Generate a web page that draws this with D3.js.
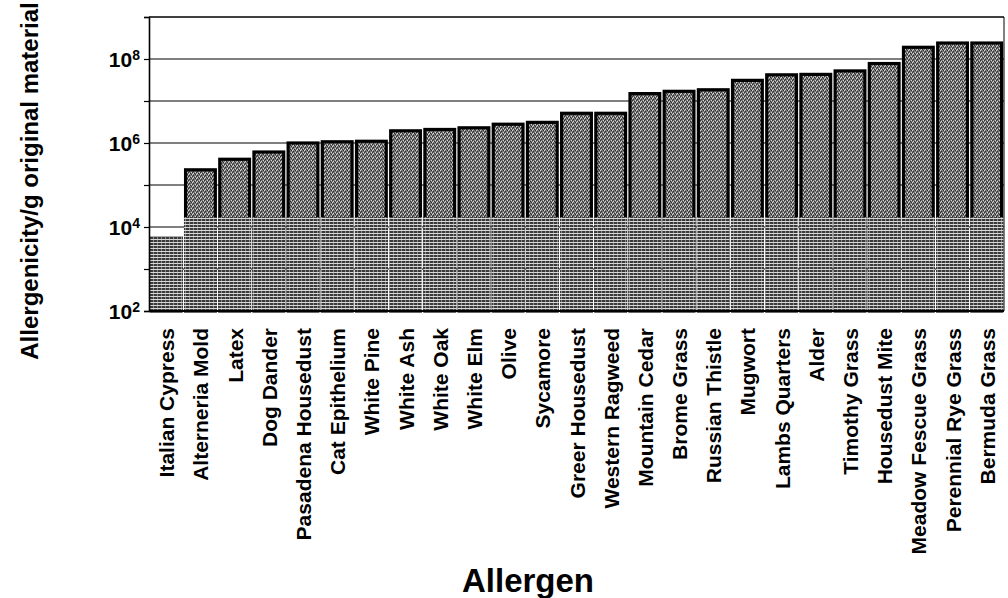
<!DOCTYPE html>
<html>
<head>
<meta charset="utf-8">
<script src="https://cdn.jsdelivr.net/npm/d3@7"></script>
<style>
  html, body { margin: 0; padding: 0; background: #fff; }
  svg { display: block; }
  text { font-family: "Liberation Sans", Arial, Helvetica, sans-serif; font-weight: bold; fill: #000; }
</style>
</head>
<body>
<svg id="chart" width="1008" height="598"></svg>
<script>
// ---- data ----
const categories = [
  "Italian Cypress", "Alterneria Mold", "Latex", "Dog Dander", "Pasadena Housedust",
  "Cat Epithelium", "White Pine", "White Ash", "White Oak", "White Elm",
  "Olive", "Sycamore", "Greer Housedust", "Western Ragweed", "Mountain Cedar",
  "Brome Grass", "Russian Thistle", "Mugwort", "Lambs Quarters", "Alder",
  "Timothy Grass", "Housedust Mite", "Meadow Fescue Grass", "Perennial Rye Grass", "Bermuda Grass"
];
const values = [
  5.5e3, 2.3e5, 4.1e5, 6.1e5, 1.0e6,
  1.07e6, 1.1e6, 1.95e6, 2.1e6, 2.3e6,
  2.8e6, 3.1e6, 5.1e6, 5.1e6, 1.5e7,
  1.7e7, 1.85e7, 3.1e7, 4.2e7, 4.3e7,
  5.2e7, 7.8e7, 1.9e8, 2.4e8, 2.4e8
];
const gridValues = [1e2, 1e3, 1e4, 1e5, 1e6, 1e7, 1e8, 1e9];
const tickLabelValues = [1e2, 1e4, 1e6, 1e8];
const tickExponents = ["2", "4", "6", "8"];
const xTitle = "Allergen";
const yTitle = "Allergenicity/g original material";

// ---- layout ----
const svg = d3.select("#chart");
const plotLeft = 149, plotRight = 1004, plotTop = 17, plotBottom = 311;

const x = d3.scaleBand().domain(categories).range([plotLeft, plotRight]).paddingInner(0.13).paddingOuter(0.07);
const y = d3.scaleLog().domain([1e2, 1e9]).range([plotBottom, plotTop]);
const bandY = 217; // lower hatched band boundary (screen)

// patterns
const defs = svg.append("defs");
const sp = defs.append("pattern").attr("id", "speckle").attr("patternUnits", "userSpaceOnUse")
  .attr("width", 4).attr("height", 4);
sp.append("rect").attr("width", 4).attr("height", 4).attr("fill", "#7a7a7a");
[[0,0],[2,1],[1,3],[3,2]].forEach(([a,b]) => sp.append("rect").attr("x", a).attr("y", b).attr("width", 1).attr("height", 1).attr("fill", "#2e2e2e"));
[[1,1],[3,0],[0,2]].forEach(([a,b]) => sp.append("rect").attr("x", a).attr("y", b).attr("width", 1).attr("height", 1).attr("fill", "#d4d4d4"));

const ht = defs.append("pattern").attr("id", "hatch").attr("patternUnits", "userSpaceOnUse")
  .attr("width", 4).attr("height", 3);
ht.append("rect").attr("width", 4).attr("height", 3).attr("fill", "#3a3a3a");
ht.append("rect").attr("y", 2).attr("width", 4).attr("height", 1).attr("fill", "#d8d8d8");
ht.append("rect").attr("x", 1).attr("y", 0).attr("width", 1).attr("height", 2).attr("fill", "#8a8a8a");

// gridlines
svg.append("g").selectAll("line").data(gridValues).join("line")
  .attr("x1", plotLeft).attr("x2", plotRight)
  .attr("y1", d => y(d)).attr("y2", d => y(d))
  .attr("stroke", "#000").attr("stroke-width", d => d === 1e9 ? 1.6 : 1.1);

// right border
svg.append("line").attr("x1", plotRight).attr("x2", plotRight).attr("y1", y(1e9)).attr("y2", plotBottom)
  .attr("stroke", "#000").attr("stroke-width", 1);

// bars
const bars = svg.append("g");
bars.selectAll("rect.bar").data(values).join("rect")
  .attr("class", "bar")
  .attr("x", (d, i) => x(categories[i]))
  .attr("width", x.bandwidth())
  .attr("y", d => y(d))
  .attr("height", d => plotBottom - y(d))
  .attr("fill", "url(#speckle)")
  .attr("stroke", "#000").attr("stroke-width", 3.2);

// lower hatched portion of bars
bars.selectAll("rect.low").data(values).join("rect")
  .attr("class", "low")
  .attr("x", (d, i) => x(categories[i]) - 1.6)
  .attr("width", x.bandwidth() + 3.2)
  .attr("y", d => Math.max(y(d) - 1.6, bandY))
  .attr("height", d => plotBottom - Math.max(y(d) - 1.6, bandY))
  .attr("fill", "url(#hatch)");

// y axis
const yAxis = d3.axisLeft(y).tickValues(gridValues).tickSize(5).tickFormat("");
const gy = svg.append("g").attr("transform", `translate(${plotLeft},0)`).call(yAxis);
gy.select(".domain").attr("stroke-width", 1.6);
gy.selectAll(".tick line").attr("stroke-width", 1.2);

// tick labels 10^n
const tl = svg.append("g").selectAll("text").data(tickLabelValues).join("text")
  .attr("x", 140).attr("y", d => y(d) + 8)
  .attr("text-anchor", "end")
  .style("font-size", "21px");
tl.append("tspan").text("10");
tl.append("tspan").attr("dy", -7).style("font-size", "14px").text((d, i) => tickExponents[i]);

// bottom axis line
svg.append("line").attr("x1", plotLeft).attr("x2", plotRight).attr("y1", plotBottom).attr("y2", plotBottom)
  .attr("stroke", "#000").attr("stroke-width", 2);

// category labels
svg.append("g").selectAll("text").data(categories).join("text")
  .attr("transform", d => `translate(${x(d) + x.bandwidth() / 2 + 8},${plotBottom + 17}) rotate(-90)`)
  .attr("text-anchor", "end")
  .style("font-size", "21px")
  .text(d => d);

// axis titles
svg.append("text").attr("x", 528).attr("y", 592).attr("text-anchor", "middle")
  .style("font-size", "33px").text(xTitle);
svg.append("text").attr("transform", "translate(38,181) rotate(-90)").attr("text-anchor", "middle")
  .style("font-size", "24px").text(yTitle);
</script>
</body>
</html>
